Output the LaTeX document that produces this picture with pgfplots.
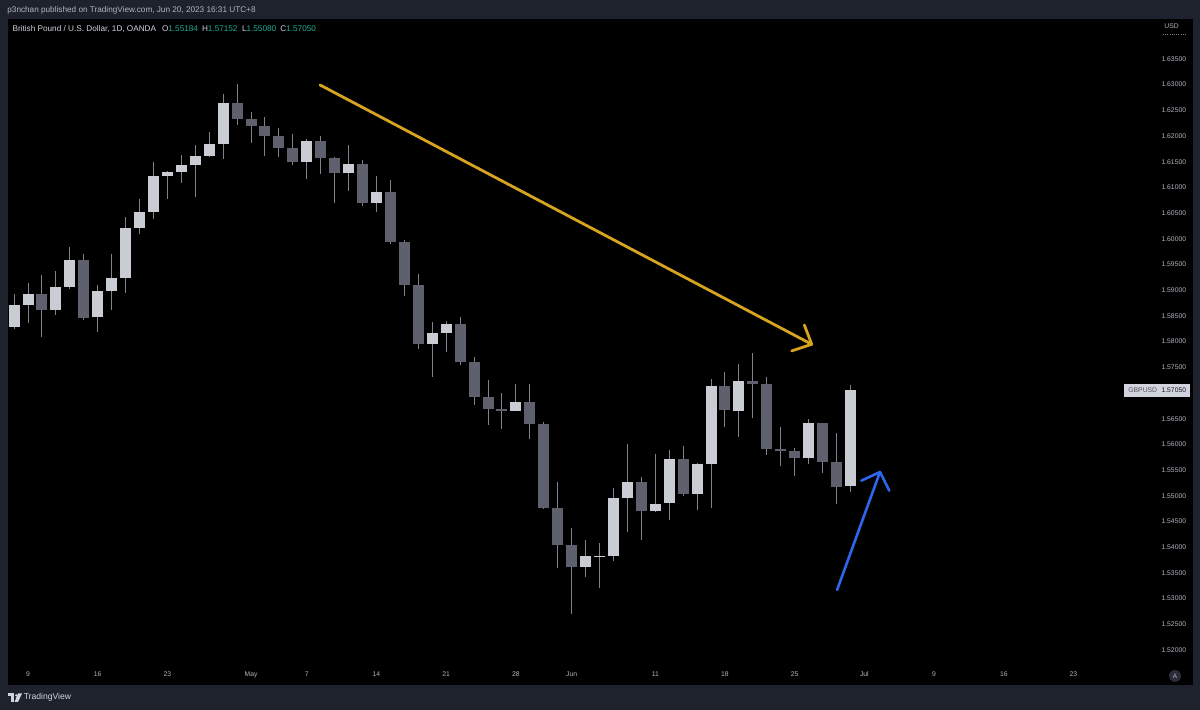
\documentclass[border=0pt]{standalone}
\usepackage{pgfplots}
\pgfplotsset{compat=1.18}
\usepackage{pgfplotstable}
\usepackage{fontspec}
\setmainfont{Liberation Sans}

\definecolor{frame}{HTML}{1E222D}
\definecolor{upc}{HTML}{C9CCD3}
\definecolor{dnc}{HTML}{5E616D}
\definecolor{wick}{HTML}{80838D}
\definecolor{txt}{HTML}{B2B5BE}
\definecolor{lgd}{HTML}{D1D4DC}
\definecolor{grn}{HTML}{22AB94}
\definecolor{gold}{HTML}{D6A41F}
\definecolor{tvblue}{HTML}{2F66F0}
\definecolor{pricebox}{HTML}{D1D4DC}
\definecolor{abtn}{HTML}{2A2E39}

% GBPUSD daily, bar index 0 = the "9" tick
\pgfplotstableread{
i   o       h       l       c
-1  1.5828  1.5893  1.5825  1.5871
0   1.5871  1.5915  1.5837  1.5892
2   1.5862  1.5938  1.5852  1.5906
3   1.5906  1.5985  1.5903  1.5959
5   1.5847  1.5910  1.5819  1.5899
6   1.5899  1.5970  1.5862  1.5923
7   1.5923  1.6042  1.5895  1.6022
8   1.6022  1.6078  1.6010  1.6052
9   1.6052  1.6149  1.6039  1.6123
10  1.6123  1.6133  1.6077  1.6131
11  1.6131  1.6164  1.6109  1.6144
12  1.6144  1.6182  1.6082  1.6162
13  1.6162  1.6207  1.6160  1.6184
14  1.6184  1.6281  1.6155  1.6264
20  1.6150  1.6195  1.6116  1.6190
23  1.6128  1.6182  1.6093  1.6146
25  1.6069  1.6122  1.6052  1.6091
29  1.5795  1.5838  1.5732  1.5817
30  1.5817  1.5841  1.5780  1.5835
35  1.5666  1.5717  1.5664  1.5683
40  1.5361  1.5414  1.5342  1.5382
41  1.5382  1.5408  1.5321  1.5383
42  1.5382  1.5515  1.5373  1.5496
43  1.5496  1.5600  1.5430  1.5526
45  1.5470  1.5581  1.5468  1.5485
46  1.5485  1.5590  1.5453  1.5571
48  1.5503  1.5564  1.5472  1.5562
49  1.5562  1.5727  1.5476  1.5714
51  1.5666  1.5756  1.5615  1.5724
56  1.5573  1.5650  1.5562  1.5642
59  1.55184 1.57152 1.55080 1.57050
}\upbars

\pgfplotstableread{
i   o       h       l       c
1   1.5892  1.5930  1.5810  1.5862
4   1.5959  1.5970  1.5843  1.5847
15  1.6264  1.6301  1.6222  1.6234
16  1.6234  1.6246  1.6187  1.6220
17  1.6220  1.6238  1.6162  1.6200
18  1.6200  1.6215  1.6160  1.6177
19  1.6177  1.6204  1.6143  1.6150
21  1.6190  1.6200  1.6126  1.6158
22  1.6158  1.6160  1.6069  1.6128
24  1.6146  1.6153  1.6063  1.6069
26  1.6091  1.6115  1.5990  1.5993
27  1.5993  1.5998  1.5889  1.5910
28  1.5910  1.5932  1.5785  1.5795
31  1.5835  1.5847  1.5755  1.5761
32  1.5761  1.5771  1.5676  1.5692
33  1.5692  1.5725  1.5638  1.5669
34  1.5669  1.5700  1.5631  1.5666
36  1.5683  1.5717  1.5610  1.5640
37  1.5640  1.5643  1.5474  1.5477
38  1.5477  1.5526  1.5360  1.5404
39  1.5404  1.5437  1.5269  1.5361
44  1.5526  1.5536  1.5414  1.5470
47  1.5571  1.5597  1.5500  1.5503
50  1.5714  1.5741  1.5634  1.5666
52  1.5724  1.5777  1.5651  1.5718
53  1.5718  1.5732  1.5579  1.5592
54  1.5592  1.5633  1.5557  1.5587
55  1.5587  1.5593  1.5539  1.5573
57  1.5642  1.5642  1.5545  1.5566
58  1.5566  1.5623  1.5485  1.5517
}\downbars

\pgfplotsset{
  wicks/.style={draw=none, mark=none, forget plot,
    error bars/.cd, y dir=both, y explicit, error mark=none,
    error bar style={draw=wick, line width=0.5pt}},
  bodies/.style={draw=none, mark=none, forget plot,
    error bars/.cd, y dir=both, y explicit, error mark=none,
    error bar style={draw=#1, line width=5.5pt}},
}

\begin{document}
\begin{tikzpicture}
\fill[frame] (0,0) rectangle (600pt,355pt);
\begin{axis}[
  at={(3.75pt,12.5pt)}, anchor=south west,
  scale only axis, width=592.5pt, height=333pt,
  xmin=-1.4706, xmax=83.537, ymin=1.51318, ymax=1.64278,
  axis background/.style={fill=black},
  axis line style={draw=none},
  tick style={draw=none},
  major tick length=0pt,
  scaled y ticks=false,
  xtick={0,5,10,16,20,25,30,35,39,45,50,55,60,65,70,75},
  xticklabels={9,16,23,May,7,14,21,28,Jun,11,18,25,Jul,9,16,23},
  ytick={1.520,1.525,1.530,1.535,1.540,1.545,1.550,1.555,1.560,1.565,1.570,1.575,1.580,1.585,1.590,1.595,1.600,1.605,1.610,1.615,1.620,1.625,1.630,1.635},
  yticklabel pos=right,
  /pgf/number format/fixed,
  /pgf/number format/fixed zerofill,
  /pgf/number format/precision=5,
  /pgf/number format/assume math mode=true,
  tick label style={font=\fontsize{3.4}{4}\selectfont, text=txt},
  xticklabel style={anchor=base, yshift=4pt},
  yticklabel style={anchor=east, inner sep=0pt, xshift=-3pt},
  extra y ticks={1.5705},
  extra y tick labels={{\color[HTML]{50535E}GBPUSD}\hspace{2.2pt}{\color[HTML]{131722}1.57050}},
  extra y tick style={yticklabel style={fill=pricebox, inner xsep=2pt, inner ysep=0pt,
    minimum height=6.5pt, xshift=2pt}},
]
% wicks
\addplot[wicks] table[x=i, y expr={(\thisrow{h}+\thisrow{l})/2},
  y error expr={(\thisrow{h}-\thisrow{l})/2}] {\upbars};
\addplot[wicks] table[x=i, y expr={(\thisrow{h}+\thisrow{l})/2},
  y error expr={(\thisrow{h}-\thisrow{l})/2}] {\downbars};
% bodies
\addplot[bodies=upc] table[x=i, y expr={(\thisrow{o}+\thisrow{c})/2},
  y error expr={max(abs(\thisrow{c}-\thisrow{o})/2,0.0001)}] {\upbars};
\addplot[bodies=dnc] table[x=i, y expr={(\thisrow{o}+\thisrow{c})/2},
  y error expr={max(abs(\thisrow{c}-\thisrow{o})/2,0.0001)}] {\downbars};

% drawn arrows
\addplot[gold, line width=1.4pt, line cap=round, mark=none]
  coordinates {(20.95,1.62994) (56.22,1.57948)};
\addplot[gold, line width=1.4pt, line cap=round, line join=round, mark=none]
  coordinates {(54.78,1.57818) (56.22,1.57948) (55.69,1.58324)};
\addplot[tvblue, line width=1.3pt, line cap=round, mark=none]
  coordinates {(58.04,1.53167) (61.12,1.55463)};
\addplot[tvblue, line width=1.3pt, line cap=round, line join=round, mark=none]
  coordinates {(59.78,1.55294) (61.12,1.55463) (61.79,1.55099)};
\end{axis}

% header and legend
\node[anchor=west, inner sep=0pt, text=txt, font=\fontsize{4.1}{5}\selectfont]
  at (3.5pt,350pt) {p3nchan published on TradingView.com, Jun 20, 2023 16:31 UTC+8};
\begin{scope}[every node/.style={anchor=west, inner sep=0pt, text=lgd, font=\fontsize{4.1}{5}\selectfont}]
\node at (6.1pt,340.5pt) {British Pound / U.S. Dollar, 1D, OANDA};
\node at (80.8pt,340.5pt) {O\textcolor{grn}{1.55184}};
\node at (100.8pt,340.5pt) {H\textcolor{grn}{1.57152}};
\node at (120.8pt,340.5pt) {L\textcolor{grn}{1.55080}};
\node at (140pt,340.5pt) {C\textcolor{grn}{1.57050}};
\end{scope}
\node[anchor=west, inner sep=0pt, text=txt, font=\fontsize{3.4}{4}\selectfont]
  at (582pt,341.7pt) {USD};
\draw[txt!70!black, line width=0.4pt, dash pattern=on 0.5pt off 0.6pt] (581.5pt,338pt) -- (593pt,338pt);
\fill[abtn] (587.5pt,17pt) circle (3pt);
\node[text=txt, font=\fontsize{3.2}{4}\selectfont, inner sep=0pt] at (587.5pt,17pt) {A};

% footer logo
\begin{scope}[x=0.5pt, y=0.5pt]
\fill[lgd] (7.5,16.5) rectangle (14,13.6);
\fill[lgd] (11,13.6) rectangle (14,8);
\fill[lgd] (16.2,14.6) circle (1.3);
\fill[lgd] (18,16.5) -- (22,16.5) -- (18,8) -- (14.5,8) -- cycle;
\end{scope}
\node[anchor=west, inner sep=0pt, text=lgd, font=\fontsize{4.3}{5}\selectfont]
  at (11.7pt,6.3pt) {TradingView};

\pgfresetboundingbox
\useasboundingbox (0,0) rectangle (600pt,355pt);
\end{tikzpicture}
\end{document}
